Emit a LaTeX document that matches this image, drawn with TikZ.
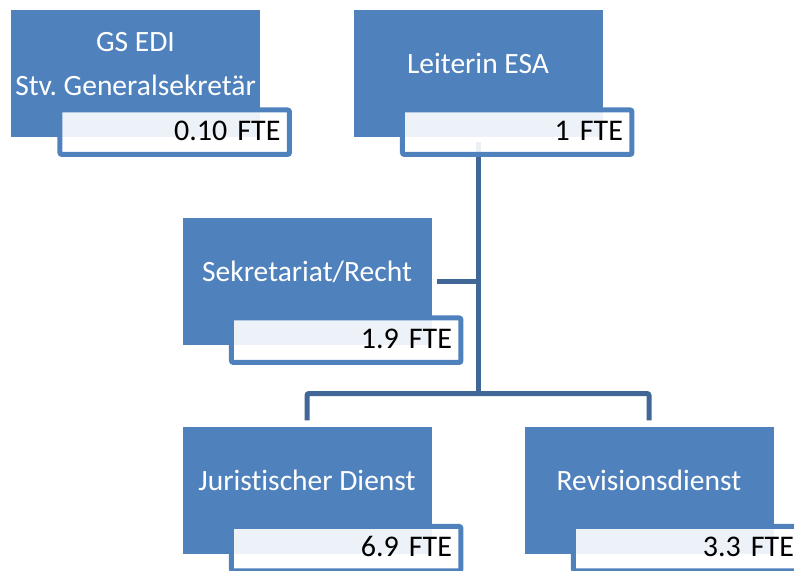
\documentclass[tikz,border=0pt]{standalone}
\usepackage{fontspec}
\setmainfont{Carlito}[Ligatures=NoCommon]
\usepackage{tikz}
\usetikzlibrary{calc}
\frenchspacing

\definecolor{boxblue}{RGB}{79,129,189}
\definecolor{linkblue}{RGB}{65,103,153}

\tikzset{
  unit/.style={fill=boxblue, minimum width=249pt, minimum height=127pt, inner sep=0pt},
  unitlabel/.style={text=white, anchor=base, align=center, font=\fontsize{29.5}{44}\selectfont},
  fte/.style={draw=boxblue, line width=5pt, fill=white, fill opacity=0.9, text opacity=1,
    rounded corners=2pt, text width=211.5pt, inner xsep=9pt, inner ysep=0pt,
    minimum height=44.5pt, align=right, text height=20pt, text depth=4pt,
    font=\fontsize{30}{36}\selectfont},
  link/.style={draw=linkblue, line width=5pt, rounded corners=2pt}
}

\begin{document}
\begin{tikzpicture}[x=1pt, y=-1pt]
  \useasboundingbox (0,0) rectangle (794,570);
  % units
  \node[unit] (gs) at (135.5,73.5) {};
  \node[unit] (esa) at (478,73.5) {};
  \node[unit] (sek) at (307,281.5) {};
  \node[unit] (jur) at (307,490) {};
  \node[unit] (rev) at (649,490) {};
  \node[unitlabel] at ([yshift=-21.5]gs.center) {GS EDI\\Stv. Generalsekret\"ar};
  \node[unitlabel] at (esa.center) {Leiterin ESA};
  \node[unitlabel] at (sek.center) {Sekretariat/Recht};
  \node[unitlabel] at (jur.center) {Juristischer Dienst};
  \node[unitlabel] at (rev.center) {Revisionsdienst};
  % connectors
  \coordinate (fork) at (478,393.5);
  \draw[link] ([yshift=-5]esa.south) -- (fork);
  \draw[link] ([yshift=6]jur.north) |- (fork) -| ([yshift=6]rev.north);
  \draw[link] ([xshift=5]sek.east) -- (sek.east -| fork);
  % FTE boxes
  \node[fte] (gs-fte) at ([xshift=-85.5, yshift=5]gs.south east) {0.10 FTE};
  \node[fte] (esa-fte) at ([xshift=-85.5, yshift=5]esa.south east) {1 FTE};
  \node[fte] (sek-fte) at ([xshift=-85.5, yshift=5]sek.south east) {1.9 FTE};
  \node[fte] (jur-fte) at ([xshift=-85.5, yshift=5]jur.south east) {6.9 FTE};
  \node[fte] (rev-fte) at ([xshift=-85.5, yshift=5]rev.south east) {3.3 FTE};
\end{tikzpicture}
\end{document}
